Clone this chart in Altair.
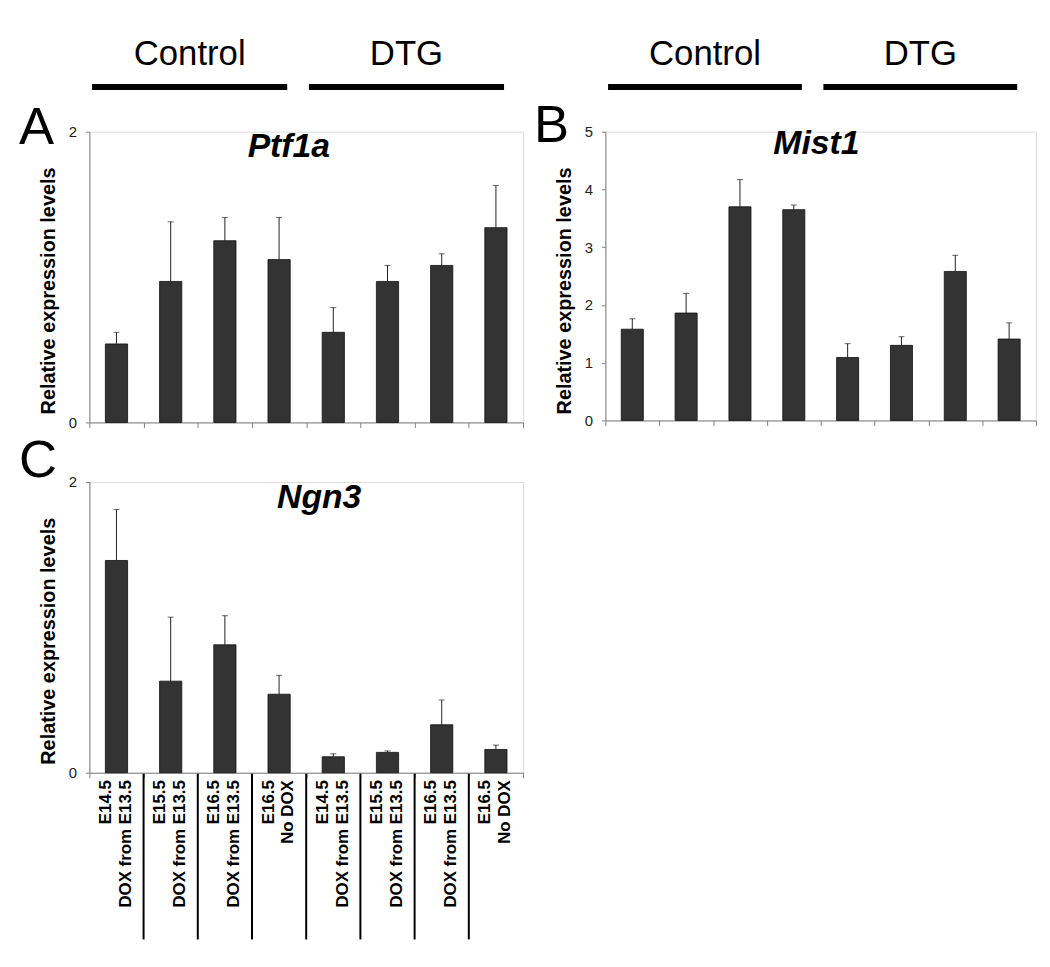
import altair as alt
import pandas as pd

# ---- data ----
groups = ["Control"] * 4 + ["DTG"] * 4
line1 = ["E14.5", "E15.5", "E16.5", "E16.5", "E14.5", "E15.5", "E16.5", "E16.5"]
line2 = ["DOX from E13.5", "DOX from E13.5", "DOX from E13.5", "No DOX",
         "DOX from E13.5", "DOX from E13.5", "DOX from E13.5", "No DOX"]
keys = [f"{g}|{a}|{b}" for g, a, b in zip(groups, line1, line2)]

ptf1a = [0.54, 0.97, 1.25, 1.12, 0.62, 0.97, 1.08, 1.34]
ptf1a_sd = [0.08, 0.41, 0.16, 0.29, 0.17, 0.11, 0.08, 0.29]

mist1 = [1.58, 1.86, 3.70, 3.65, 1.09, 1.30, 2.58, 1.41]
mist1_sd = [0.18, 0.34, 0.47, 0.08, 0.24, 0.15, 0.28, 0.28]

ngn3 = [1.46, 0.63, 0.88, 0.54, 0.11, 0.14, 0.33, 0.16]
ngn3_sd = [0.35, 0.44, 0.20, 0.13, 0.02, 0.01, 0.17, 0.03]

group_labels = ["Control", "DTG"]

FONT = "Liberation Sans"
AX = "#808080"


def panel(vals, sds, gene, letter, ymax, yticks, width, height,
          xlabels=False, show_groups=False, title_x=0.5, title_y=26,
          letter_x=-71, letter_y=12):
    df = pd.DataFrame({"key": keys, "val": vals, "sd": sds})
    df["top"] = df["val"] + df["sd"]

    xscale = alt.Scale(domain=keys, paddingInner=0, paddingOuter=0)
    if xlabels:
        xaxis = alt.Axis(title=None, tickBand="extent", tickSize=5, tickColor=AX,
                         domainColor=AX, labelExpr="slice(split(datum.value, '|'), 1)",
                         labelAngle=270, labelFont=FONT, labelFontSize=17,
                         labelFontWeight="bold", labelColor="black", labelPadding=2,
                         labelLineHeight=20, labelOffset=-11)
    else:
        xaxis = alt.Axis(title=None, tickBand="extent", tickSize=5, tickColor=AX,
                         domainColor=AX, labels=False)
    yscale = alt.Scale(domain=[0, ymax], nice=False, zero=True)
    yaxis = alt.Axis(values=yticks, title="Relative expression levels", titleFont=FONT,
                     titleFontSize=20, titleFontWeight="bold", titleColor="black",
                     titlePadding=10, titleY=160, labelFont=FONT, labelFontSize=15,
                     labelColor="#222222", labelPadding=9, tickSize=4,
                     tickColor=AX, domainColor=AX, grid=False, format="d")

    x = alt.X("key:N", scale=xscale, axis=xaxis)
    y = alt.Y("val:Q", scale=yscale, axis=yaxis)

    bars = alt.Chart(df).mark_bar(width=alt.RelativeBandSize(0.41), color="#333333",
                                  stroke="#111111", strokeWidth=0.8).encode(x=x, y=y)
    err = alt.Chart(df).mark_rule(color="#222222", strokeWidth=1).encode(
        x=x, y=y, y2="top:Q")
    cap = alt.Chart(df).mark_tick(color="#222222", thickness=1, size=6).encode(
        x=x, y=alt.Y("top:Q", scale=yscale, axis=yaxis))

    tdf = pd.DataFrame({"t": [gene]})
    title = alt.Chart(tdf).mark_text(font=FONT, fontSize=34, fontWeight="bold",
                                     fontStyle="italic", align="center",
                                     baseline="alphabetic", color="black").encode(
        x=alt.value(width * title_x), y=alt.value(title_y), text="t:N")
    ldf = pd.DataFrame({"t": [letter]})
    let = alt.Chart(ldf).mark_text(font=FONT, fontSize=53, align="left",
                                   baseline="alphabetic", color="black").encode(
        x=alt.value(letter_x), y=alt.value(letter_y), text="t:N")

    layers = [bars, err, cap, title, let]

    if show_groups:
        gdf = pd.DataFrame({"label": group_labels,
                            "start": [keys[0], keys[4]],
                            "end": [keys[3], keys[7]],
                            "mid": [keys[1], keys[5]]})
        grule = alt.Chart(gdf).mark_rule(strokeWidth=6, color="black").encode(
            x=alt.X("start:N", bandPosition=0.05, scale=xscale, axis=xaxis),
            x2=alt.X2("end:N", bandPosition=0.65),
            y=alt.value(-45))
        gtext = alt.Chart(gdf).mark_text(font=FONT, fontSize=35, color="black",
                                         baseline="alphabetic").encode(
            x=alt.X("mid:N", bandPosition=0.85, scale=xscale, axis=xaxis),
            y=alt.value(-67), text="label:N")
        layers += [grule, gtext]

    if xlabels:
        sdf = pd.DataFrame({"key": keys[1:]})
        sep = alt.Chart(sdf).mark_rule(strokeWidth=2, color="black").encode(
            x=alt.X("key:N", bandPosition=0, scale=xscale, axis=xaxis),
            y=alt.value(height + 1), y2=alt.value(height + 168))
        layers.append(sep)

    return alt.layer(*layers).properties(width=width, height=height)


A = panel(ptf1a, ptf1a_sd, "Ptf1a", "A", 2, [0, 1, 2], 437, 293,
          show_groups=True, title_x=0.46, title_y=26)
B = panel(mist1, mist1_sd, "Mist1", "B", 5, [0, 1, 2, 3, 4, 5], 434, 291,
          show_groups=True, title_x=0.49, title_y=22, letter_x=-72, letter_y=10)
C = panel(ngn3, ngn3_sd, "Ngn3", "C", 2, [0, 1, 2], 437, 293, xlabels=True,
          title_x=0.53, title_y=26, letter_x=-71, letter_y=-5)

top = alt.hconcat(A, B, spacing=9)
chart = alt.vconcat(top, C, spacing=3).properties(
    padding={"left": 10, "top": 25, "right": 5, "bottom": 5}
).configure_view(stroke=None).configure(font=FONT)

chart.save("out.html", embed_options={"renderer": "svg", "actions": False})
